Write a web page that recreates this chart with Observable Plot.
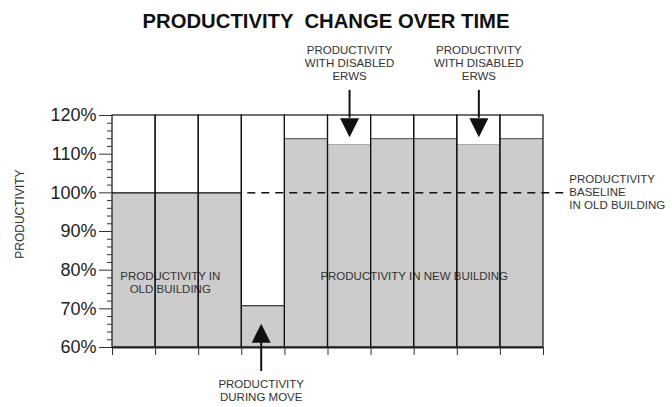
<!DOCTYPE html>
<html><head><meta charset="utf-8">
<script src="https://cdn.jsdelivr.net/npm/d3@7"></script>
<script src="https://cdn.jsdelivr.net/npm/@observablehq/plot@0.6"></script>
<style>
body{margin:0;background:#fff;font-family:"Liberation Sans",Arial,sans-serif;}
#title{height:38px;line-height:42px;font-weight:bold;font-size:20.3px;text-align:center;padding-right:20px;color:#111;white-space:pre;}
</style></head><body>
<div id="title">PRODUCTIVITY  CHANGE OVER TIME</div>
<div id="chart"></div>
<script>
// ---- data ----
const periods = [1, 2, 3, 4, 5, 6, 7, 8, 9, 10];
const productivity = [100, 100, 100, 70.8, 114, 112.5, 114, 114, 112.5, 114];
const phases = ["old", "old", "old", "move", "new", "disabled", "new", "new", "disabled", "new"];
const yTicks = [60, 70, 80, 90, 100, 110, 120];
const yMinorTicks = [62, 64, 66, 68, 72, 74, 76, 78, 82, 84, 86, 88, 92, 94, 96, 98, 102, 104, 106, 108, 112, 114, 116, 118];
const baseline = 100;
const yLabel = "PRODUCTIVITY";
const centeredNotes = [
  {text: "PRODUCTIVITY\nWITH DISABLED\nERWS", x: 5.5, y: 133.6},
  {text: "PRODUCTIVITY\nWITH DISABLED\nERWS", x: 8.5, y: 133.6},
  {text: "PRODUCTIVITY\nDURING MOVE", x: 3.45, y: 48.9},
  {text: "PRODUCTIVITY IN\nOLD BUILDING", x: 1.34, y: 76.8},
  {text: "PRODUCTIVITY IN NEW BUILDING", x: 7, y: 78.6}
];
const sideNote = {text: "PRODUCTIVITY\nBASELINE\nIN OLD BUILDING", x: 10.6, y: 100.3};
const downArrows = [{x: 5.5, from: 126.5, to: 119.3, head: 116.8}, {x: 8.5, from: 126.5, to: 119.3, head: 116.8}];
const upArrows = [{x: 3.45, from: 53.8, to: 61.3, head: 63.7}];

// ---- table ----
const table = periods.map((p, i) => ({p, v: productivity[i], phase: phases[i]}));
const boundaries = [0, ...periods];
const topColor = {old: "#111", move: "#111", new: "#666", disabled: "#aaa"};

const triDown = {draw(ctx, size) { const r = Math.sqrt(size / Math.PI); ctx.moveTo(-r, -r); ctx.lineTo(r, -r); ctx.lineTo(0, r); ctx.closePath(); }};
const triUp = {draw(ctx, size) { const r = Math.sqrt(size / Math.PI); ctx.moveTo(-r, r); ctx.lineTo(r, r); ctx.lineTo(0, -r); ctx.closePath(); }};

const chart = Plot.plot({
  width: 672,
  height: 369,
  marginLeft: 112,
  marginRight: 129,
  marginTop: 77,
  marginBottom: 60,
  style: {fontFamily: "'Liberation Sans', Arial, sans-serif", background: "#fff", overflow: "visible"},
  x: {domain: [0, 10]},
  y: {domain: [60, 120]},
  marks: [
    Plot.rect(table, {x1: d => d.p - 1, x2: "p", y1: 60, y2: "v", fill: "#cccccc"}),
    Plot.ruleY(table, {y: "v", x1: d => d.p - 1, x2: "p", stroke: d => topColor[d.phase], strokeWidth: 1.2}),
    Plot.text(centeredNotes, {x: "x", y: "y", text: "text", fontSize: 11.5, fill: "#333", lineHeight: 1.15, lineAnchor: "middle"}),
    Plot.text([sideNote], {x: "x", y: "y", text: "text", fontSize: 11.5, fill: "#333", lineHeight: 1.13, textAnchor: "start", lineAnchor: "middle"}),
    Plot.rect(table, {x1: d => d.p - 1, x2: "p", y1: 60, y2: 120, stroke: "#111", fill: "none", strokeWidth: 1.2}),
    Plot.ruleY([baseline], {x1: 3, x2: 10.6, stroke: "#111", strokeWidth: 1.5, strokeDasharray: "8,6", strokeDashoffset: -6}),
    Plot.ruleY([60], {x1: 0, x2: 10, stroke: "#222", strokeWidth: 2}),
    Plot.ruleX(downArrows, {x: "x", y1: "from", y2: "to", stroke: "#111", strokeWidth: 2}),
    Plot.dot(downArrows, {x: "x", y: "head", symbol: triDown, r: 9.5, fill: "#111", stroke: "none"}),
    Plot.ruleX(upArrows, {x: "x", y1: "from", y2: "to", stroke: "#111", strokeWidth: 2}),
    Plot.dot(upArrows, {x: "x", y: "head", symbol: triUp, r: 9.5, fill: "#111", stroke: "none"}),
    Plot.axisY(yTicks, {tickSize: 13, tickPadding: 3, tickFormat: d => d + "%", fontSize: 18, fill: "#222", stroke: "#333", label: null}),
    Plot.axisY(yMinorTicks, {tickSize: 5, tickFormat: () => "", stroke: "#333", label: null}),
    Plot.axisX(boundaries, {tickSize: 8, tickFormat: () => "", stroke: "#333", label: null}),
    Plot.text([{t: yLabel, y: 94.5}], {text: "t", y: "y", frameAnchor: "left", dx: -92, rotate: -90, textAnchor: "middle", fontSize: 12, fill: "#333"})
  ]
});
document.getElementById("chart").appendChild(chart);
</script>
</body></html>
